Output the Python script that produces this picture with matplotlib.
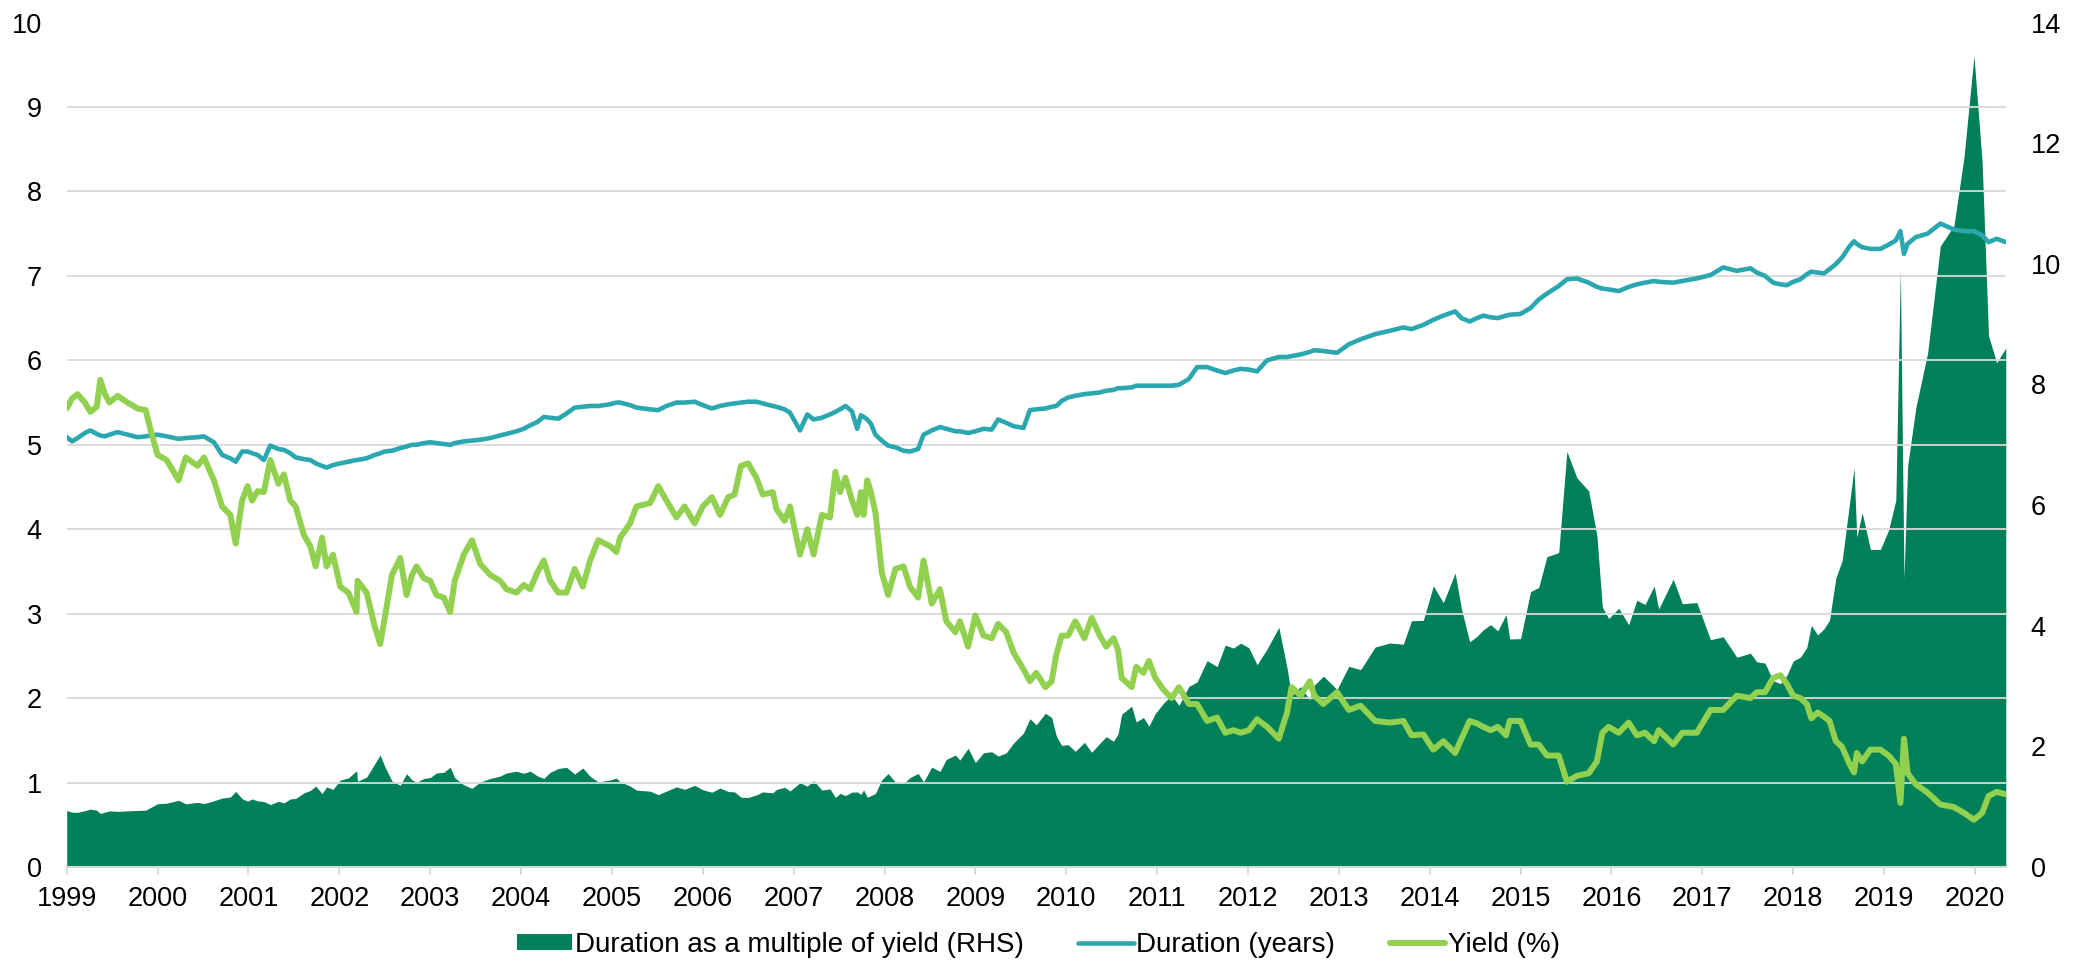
import numpy as np
import matplotlib.pyplot as plt

plt.rcParams['font.family'] = ['Liberation Sans', 'DejaVu Sans']

# dates as decimal years, with yield (%) and duration (years) read at each date
dates = [
    1999.00, 1999.06, 1999.12, 1999.20, 1999.26, 1999.33, 1999.37, 1999.42, 1999.47, 1999.56,
    1999.67, 1999.78, 1999.87, 1999.92, 2000.00, 2000.10, 2000.23, 2000.31, 2000.44, 2000.51,
    2000.62, 2000.71, 2000.80, 2000.86, 2000.93, 2000.99, 2001.04, 2001.10, 2001.17, 2001.24,
    2001.33, 2001.39, 2001.46, 2001.52, 2001.61, 2001.68, 2001.74, 2001.81, 2001.86, 2001.93,
    2002.01, 2002.10, 2002.19, 2002.20, 2002.30, 2002.39, 2002.45, 2002.50, 2002.58, 2002.67,
    2002.74, 2002.80, 2002.85, 2002.93, 2003.00, 2003.07, 2003.15, 2003.22, 2003.27, 2003.37,
    2003.46, 2003.55, 2003.66, 2003.77, 2003.84, 2003.95, 2004.03, 2004.10, 2004.18, 2004.25,
    2004.32, 2004.41, 2004.50, 2004.59, 2004.68, 2004.76, 2004.85, 2004.98, 2005.05, 2005.09,
    2005.20, 2005.27, 2005.42, 2005.51, 2005.60, 2005.71, 2005.80, 2005.91, 2006.00, 2006.10,
    2006.19, 2006.28, 2006.35, 2006.42, 2006.50, 2006.59, 2006.66, 2006.77, 2006.81, 2006.90,
    2006.96, 2007.07, 2007.15, 2007.22, 2007.31, 2007.40, 2007.46, 2007.51, 2007.57, 2007.64,
    2007.70, 2007.74, 2007.77, 2007.81, 2007.85, 2007.90, 2007.97, 2008.04, 2008.12, 2008.21,
    2008.28, 2008.37, 2008.43, 2008.52, 2008.61, 2008.68, 2008.78, 2008.83, 2008.92, 2009.00,
    2009.09, 2009.18, 2009.25, 2009.34, 2009.42, 2009.53, 2009.60, 2009.67, 2009.77, 2009.84,
    2009.89, 2009.95, 2010.02, 2010.10, 2010.20, 2010.28, 2010.37, 2010.44, 2010.52, 2010.57,
    2010.61, 2010.72, 2010.77, 2010.85, 2010.91, 2010.98, 2011.07, 2011.16, 2011.24, 2011.35,
    2011.44, 2011.55, 2011.66, 2011.75, 2011.84, 2011.92, 2012.01, 2012.10, 2012.21, 2012.34,
    2012.43, 2012.48, 2012.58, 2012.68, 2012.73, 2012.83, 2012.98, 2013.11, 2013.24, 2013.40,
    2013.56, 2013.71, 2013.80, 2013.93, 2014.04, 2014.15, 2014.28, 2014.35, 2014.44, 2014.52,
    2014.59, 2014.67, 2014.75, 2014.84, 2014.88, 2015.00, 2015.11, 2015.20, 2015.29, 2015.42,
    2015.51, 2015.62, 2015.75, 2015.84, 2015.90, 2015.97, 2016.08, 2016.19, 2016.28, 2016.37,
    2016.47, 2016.52, 2016.68, 2016.78, 2016.94, 2017.09, 2017.23, 2017.38, 2017.53, 2017.60,
    2017.69, 2017.78, 2017.86, 2017.93, 2018.00, 2018.08, 2018.15, 2018.20, 2018.27, 2018.34,
    2018.40, 2018.47, 2018.54, 2018.62, 2018.67, 2018.70, 2018.76, 2018.85, 2018.96, 2019.05,
    2019.13, 2019.18, 2019.22, 2019.26, 2019.35, 2019.48, 2019.62, 2019.77, 2019.88, 2019.99,
    2020.08, 2020.15, 2020.24, 2020.34,
]

yld = [
    5.43, 5.55, 5.60, 5.50, 5.39, 5.45, 5.77, 5.60, 5.50, 5.58,
    5.50, 5.43, 5.41, 5.19, 4.88, 4.82, 4.58, 4.85, 4.75, 4.85,
    4.58, 4.27, 4.17, 3.83, 4.34, 4.51, 4.34, 4.45, 4.44, 4.82,
    4.54, 4.65, 4.34, 4.27, 3.93, 3.80, 3.56, 3.90, 3.56, 3.70,
    3.32, 3.25, 3.02, 3.39, 3.25, 2.85, 2.64, 2.95, 3.46, 3.66,
    3.22, 3.46, 3.56, 3.42, 3.39, 3.22, 3.19, 3.02, 3.39, 3.70,
    3.87, 3.59, 3.46, 3.39, 3.29, 3.25, 3.34, 3.29, 3.49, 3.63,
    3.39, 3.25, 3.25, 3.53, 3.32, 3.63, 3.87, 3.80, 3.73, 3.90,
    4.07, 4.27, 4.31, 4.51, 4.34, 4.14, 4.27, 4.07, 4.27, 4.38,
    4.17, 4.38, 4.41, 4.75, 4.78, 4.61, 4.41, 4.44, 4.24, 4.10,
    4.27, 3.70, 4.00, 3.70, 4.17, 4.14, 4.68, 4.44, 4.61, 4.35,
    4.17, 4.44, 4.17, 4.58, 4.44, 4.20, 3.49, 3.22, 3.53, 3.56,
    3.32, 3.19, 3.63, 3.12, 3.29, 2.91, 2.78, 2.91, 2.61, 2.98,
    2.74, 2.71, 2.88, 2.78, 2.54, 2.34, 2.20, 2.30, 2.13, 2.20,
    2.51, 2.74, 2.74, 2.91, 2.71, 2.95, 2.74, 2.61, 2.71, 2.57,
    2.24, 2.13, 2.37, 2.30, 2.44, 2.24, 2.10, 2.00, 2.13, 1.93,
    1.93, 1.73, 1.77, 1.59, 1.62, 1.59, 1.62, 1.75, 1.66, 1.52,
    1.83, 2.13, 2.03, 2.20, 2.03, 1.93, 2.07, 1.86, 1.91, 1.73,
    1.71, 1.73, 1.56, 1.57, 1.39, 1.49, 1.35, 1.52, 1.73, 1.70,
    1.66, 1.62, 1.66, 1.56, 1.73, 1.73, 1.45, 1.45, 1.32, 1.32,
    1.01, 1.08, 1.11, 1.25, 1.59, 1.66, 1.59, 1.71, 1.56, 1.59,
    1.49, 1.62, 1.45, 1.59, 1.59, 1.86, 1.86, 2.03, 2.00, 2.07,
    2.07, 2.24, 2.27, 2.17, 2.03, 2.00, 1.93, 1.76, 1.83, 1.78,
    1.73, 1.49, 1.42, 1.22, 1.12, 1.35, 1.25, 1.39, 1.39, 1.32,
    1.22, 0.76, 1.52, 1.11, 0.98, 0.88, 0.74, 0.71, 0.64, 0.56,
    0.64, 0.84, 0.89, 0.86,
]

dur = [
    5.09, 5.04, 5.08, 5.14, 5.17, 5.13, 5.11, 5.10, 5.12, 5.15,
    5.12, 5.09, 5.10, 5.11, 5.12, 5.10, 5.07, 5.08, 5.09, 5.10,
    5.03, 4.88, 4.84, 4.80, 4.92, 4.92, 4.90, 4.88, 4.82, 4.99,
    4.95, 4.94, 4.90, 4.85, 4.83, 4.82, 4.78, 4.75, 4.73, 4.76,
    4.78, 4.80, 4.82, 4.82, 4.84, 4.88, 4.90, 4.92, 4.93, 4.96,
    4.98, 5.00, 5.00, 5.02, 5.03, 5.02, 5.01, 5.00, 5.02, 5.04,
    5.05, 5.06, 5.08, 5.11, 5.13, 5.16, 5.19, 5.23, 5.27, 5.33,
    5.32, 5.31, 5.37, 5.44, 5.45, 5.46, 5.46, 5.48, 5.50, 5.50,
    5.47, 5.44, 5.42, 5.41, 5.46, 5.50, 5.50, 5.51, 5.47, 5.43,
    5.46, 5.48, 5.49, 5.50, 5.51, 5.51, 5.49, 5.46, 5.45, 5.42,
    5.38, 5.17, 5.36, 5.30, 5.32, 5.36, 5.39, 5.42, 5.46, 5.40,
    5.19, 5.35, 5.33, 5.30, 5.25, 5.12, 5.05, 4.99, 4.97, 4.93,
    4.92, 4.95, 5.12, 5.17, 5.21, 5.19, 5.16, 5.16, 5.14, 5.16,
    5.19, 5.18, 5.30, 5.26, 5.22, 5.20, 5.41, 5.42, 5.43, 5.45,
    5.46, 5.52, 5.56, 5.58, 5.60, 5.61, 5.62, 5.64, 5.65, 5.67,
    5.67, 5.68, 5.70, 5.70, 5.70, 5.70, 5.70, 5.70, 5.71, 5.78,
    5.92, 5.92, 5.88, 5.85, 5.88, 5.90, 5.89, 5.87, 6.00, 6.04,
    6.04, 6.05, 6.07, 6.10, 6.12, 6.11, 6.09, 6.19, 6.25, 6.31,
    6.35, 6.39, 6.37, 6.42, 6.48, 6.53, 6.58, 6.50, 6.46, 6.50,
    6.53, 6.51, 6.50, 6.53, 6.54, 6.55, 6.62, 6.72, 6.79, 6.88,
    6.96, 6.97, 6.92, 6.87, 6.85, 6.84, 6.82, 6.87, 6.90, 6.92,
    6.94, 6.93, 6.92, 6.94, 6.97, 7.01, 7.10, 7.06, 7.09, 7.04,
    7.00, 6.92, 6.90, 6.89, 6.93, 6.96, 7.02, 7.05, 7.04, 7.03,
    7.08, 7.14, 7.22, 7.35, 7.41, 7.38, 7.34, 7.32, 7.32, 7.37,
    7.42, 7.53, 7.26, 7.38, 7.46, 7.50, 7.62, 7.55, 7.53, 7.53,
    7.48, 7.40, 7.44, 7.40,
]

years = list(range(1999, 2021))
labels = ["Duration as a multiple of yield (RHS)", "Duration (years)", "Yield (%)"]

# duration divided by yield, plotted on the right axis
multiple = np.array(dur) / np.array(yld)

fig = plt.figure(figsize=(20.85, 9.61), dpi=100)
ax = fig.add_axes([0.032, 0.0978, 0.930, 0.8787])
ax2 = ax.twinx()
ax.set_zorder(2)
ax2.set_zorder(1)
ax.patch.set_visible(False)

area = ax2.fill_between(dates, multiple, 0, color="#008058", lw=0, label=labels[0])
l1, = ax.plot(dates, dur, color="#2BA7B0", lw=3.3, label=labels[1],
              solid_joinstyle="round", solid_capstyle="round")
l2, = ax.plot(dates, yld, color="#92D050", lw=4.3, label=labels[2],
              solid_joinstyle="round", solid_capstyle="round")

ax.set_xlim(1999, 2020.34)
ax.set_ylim(0, 10)
ax2.set_ylim(0, 14)

ax.set_yticks(range(0, 11))
ax2.set_yticks(range(0, 15, 2))
# grid lines follow the left scale but sit under the area
ax2.set_yticks(np.linspace(0, 14, 11), minor=True)
ax2.grid(which="minor", axis="y", color="#D9D9D9", lw=1.3)
ax2.tick_params(which="minor", length=0)

ax.set_xticks(years)
ax.set_xticklabels([str(y) for y in years])
ax.tick_params(axis="x", length=6, width=1.3, color="#D9D9D9", pad=8, labelsize=19.5)
ax.tick_params(axis="y", length=0, pad=18, labelsize=19.5)
ax2.tick_params(axis="y", which="major", length=0, pad=18, labelsize=19.5)

for a in (ax, ax2):
    for s in ("top", "left", "right"):
        a.spines[s].set_visible(False)
ax2.spines["bottom"].set_visible(False)
ax.spines["bottom"].set_color("#D9D9D9")
ax.spines["bottom"].set_linewidth(1.5)

leg = fig.legend([area, l1, l2], labels, loc="center", bbox_to_anchor=(0.498, 0.0166),
                 ncol=3, frameon=False, fontsize=20, handlelength=2.0, handleheight=0.54,
                 handletextpad=0.1, columnspacing=1.95)
for h in leg.legend_handles[1:]:
    h.set_solid_capstyle("round")

fig.savefig("out.png", dpi=100)
